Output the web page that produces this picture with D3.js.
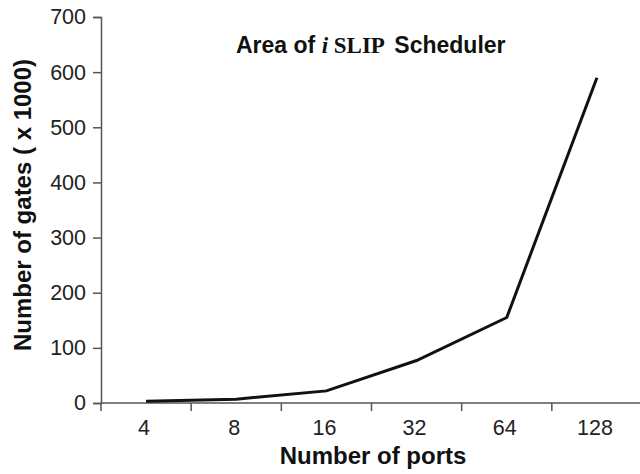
<!DOCTYPE html>
<html>
<head>
<meta charset="utf-8">
<script src="https://cdn.jsdelivr.net/npm/d3@7"></script>
<style>
  body { margin: 0; background: #fff; }
  text { font-family: "Liberation Sans", Arial, sans-serif; }
</style>
</head>
<body>
<div id="chart"></div>
<script>
// data
var ports = ["4", "8", "16", "32", "64", "128"];
var gates = [3, 7, 22, 77, 155, 590];
var yTicks = [0, 100, 200, 300, 400, 500, 600, 700];

const drawChart = () => {
  var width = 640, height = 474;
  var margin = { top: 17, right: -2, bottom: 71, left: 101 };

  var svg = d3
    .select("#chart")
    .append("svg")
    .attr("width", width)
    .attr("height", height);

  var x = d3.scaleBand()
    .domain(ports)
    .range([margin.left, width - margin.right]);

  var y = d3.scaleLinear()
    .domain([0, 700])
    .range([height - margin.bottom, margin.top]);

  // x axis: ticks at band edges, labels at band centres
  var xAxis = svg.append("g")
    .attr("transform", "translate(0," + y(0) + ")");
  xAxis.append("line")
    .attr("x1", x.range()[0]).attr("x2", x.range()[1])
    .attr("stroke", "#555").attr("stroke-width", 1.5);
  xAxis.selectAll(".tick")
    .data(ports)
    .join("line")
    .attr("x1", d => x(d)).attr("x2", d => x(d))
    .attr("y1", 0).attr("y2", 8)
    .attr("stroke", "#555").attr("stroke-width", 1.5);
  xAxis.selectAll(".lbl")
    .data(ports)
    .join("text")
    .attr("x", d => x(d) + x.bandwidth() / 2 - 2)
    .attr("y", 32)
    .attr("text-anchor", "middle")
    .style("font-size", "21.5px")
    .style("fill", "#222")
    .text(d => d);

  // y axis
  var yAxis = svg.append("g")
    .attr("transform", "translate(" + margin.left + ",0)")
    .call(d3.axisLeft(y).tickValues(yTicks).tickSize(8).tickPadding(7));
  yAxis.select(".domain").attr("stroke", "#555").attr("stroke-width", 1.5);
  yAxis.selectAll(".tick line").attr("stroke", "#555").attr("stroke-width", 1.5);
  yAxis.selectAll(".tick text")
    .style("font-size", "21.5px")
    .style("font-family", "Liberation Sans, Arial, sans-serif")
    .style("fill", "#222");

  // line
  var line = d3.line()
    .x((d, i) => x(ports[i]) + x.bandwidth() / 2)
    .y(d => y(d));
  svg.append("path")
    .datum(gates)
    .attr("d", line)
    .style("fill", "none")
    .style("stroke", "#111")
    .style("stroke-width", 3);

  // title
  var title = svg.append("text")
    .attr("x", 236)
    .attr("y", 53)
    .style("font-size", "23px")
    .style("font-weight", "bold")
    .style("fill", "#111");
  title.append("tspan").text("Area of ");
  title.append("tspan")
    .style("font-family", "Liberation Serif, Times New Roman, serif")
    .style("font-style", "italic")
    .text("i");
  title.append("tspan")
    .style("font-family", "Liberation Serif, Times New Roman, serif")
    .text(" SLIP");
  title.append("tspan").attr("dx", 3).text(" Scheduler");

  // axis titles
  svg.append("text")
    .attr("x", 373)
    .attr("y", 464)
    .attr("text-anchor", "middle")
    .style("font-size", "24px")
    .style("font-weight", "bold")
    .style("fill", "#111")
    .text("Number of ports");

  svg.append("text")
    .attr("transform", "translate(31,205) rotate(-90)")
    .attr("text-anchor", "middle")
    .style("font-size", "24px")
    .style("font-weight", "bold")
    .style("fill", "#111")
    .text("Number of gates ( x 1000)");
};

drawChart();
</script>
</body>
</html>
